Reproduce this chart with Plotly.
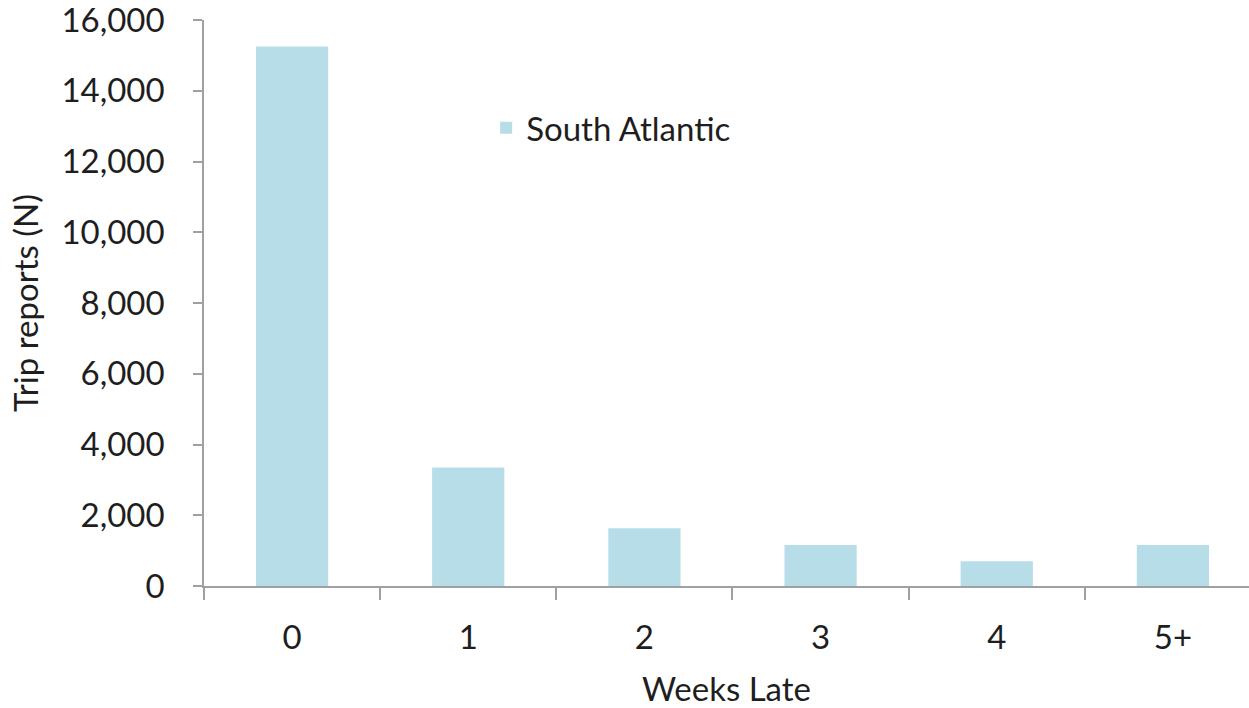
import plotly.graph_objects as go

categories = ["0", "1", "2", "3", "4", "5+"]
south_atlantic = [15250, 3350, 1630, 1160, 700, 1160]
y_ticks = [0, 2000, 4000, 6000, 8000, 10000, 12000, 14000, 16000]
y_tick_text = ["0", "2,000", "4,000", "6,000", "8,000", "10,000", "12,000", "14,000", "16,000"]

FONT = "Lato, Carlito, Calibri, sans-serif"
TXT = "#1e1e1e"
AX = "#a0a0a0"
FS = 33

fig = go.Figure()
fig.add_trace(go.Bar(
    x=categories, y=south_atlantic, name="South Atlantic",
    marker=dict(color="#b7dde8", line=dict(width=0)),
    width=0.41,
))

fig.update_layout(
    width=1249, height=708,
    margin=dict(l=204, r=0, t=20, b=122),
    paper_bgcolor="white", plot_bgcolor="white",
    font=dict(family=FONT, size=FS, color=TXT),
    showlegend=True,
    legend=dict(x=0.270, y=0.859, xanchor="left", yanchor="top",
                bgcolor="rgba(0,0,0,0)", font=dict(size=FS, color=TXT)),
)
fig.update_xaxes(
    type="category", range=[-0.5, 5.432], automargin=False,
    showline=True, linecolor=AX, linewidth=1.5,
    ticks="outside", tickson="boundaries", ticklen=12, tickcolor=AX, tickwidth=1.5,
    showgrid=False, zeroline=False,
    title=dict(text="Weeks Late", font=dict(size=FS, color=TXT), standoff=26),
    tickfont=dict(size=FS, color=TXT),
    ticklabelstandoff=22, ticklabeloverflow="allow",
)
fig.update_yaxes(
    range=[0, 16000], tickvals=y_ticks, ticktext=y_tick_text, automargin=False,
    showline=True, linecolor=AX, linewidth=1.5,
    ticks="outside", ticklen=9, tickcolor=AX, tickwidth=1.5,
    showgrid=False, zeroline=False,
    title=dict(text="Trip reports (N)", font=dict(size=FS, color=TXT), standoff=13),
    tickfont=dict(size=FS, color=TXT),
    ticklabelstandoff=22, ticklabeloverflow="allow",
)

fig.write_html("out.html", config={"displayModeBar": False},
               post_script="document.body.style.margin='0';")
